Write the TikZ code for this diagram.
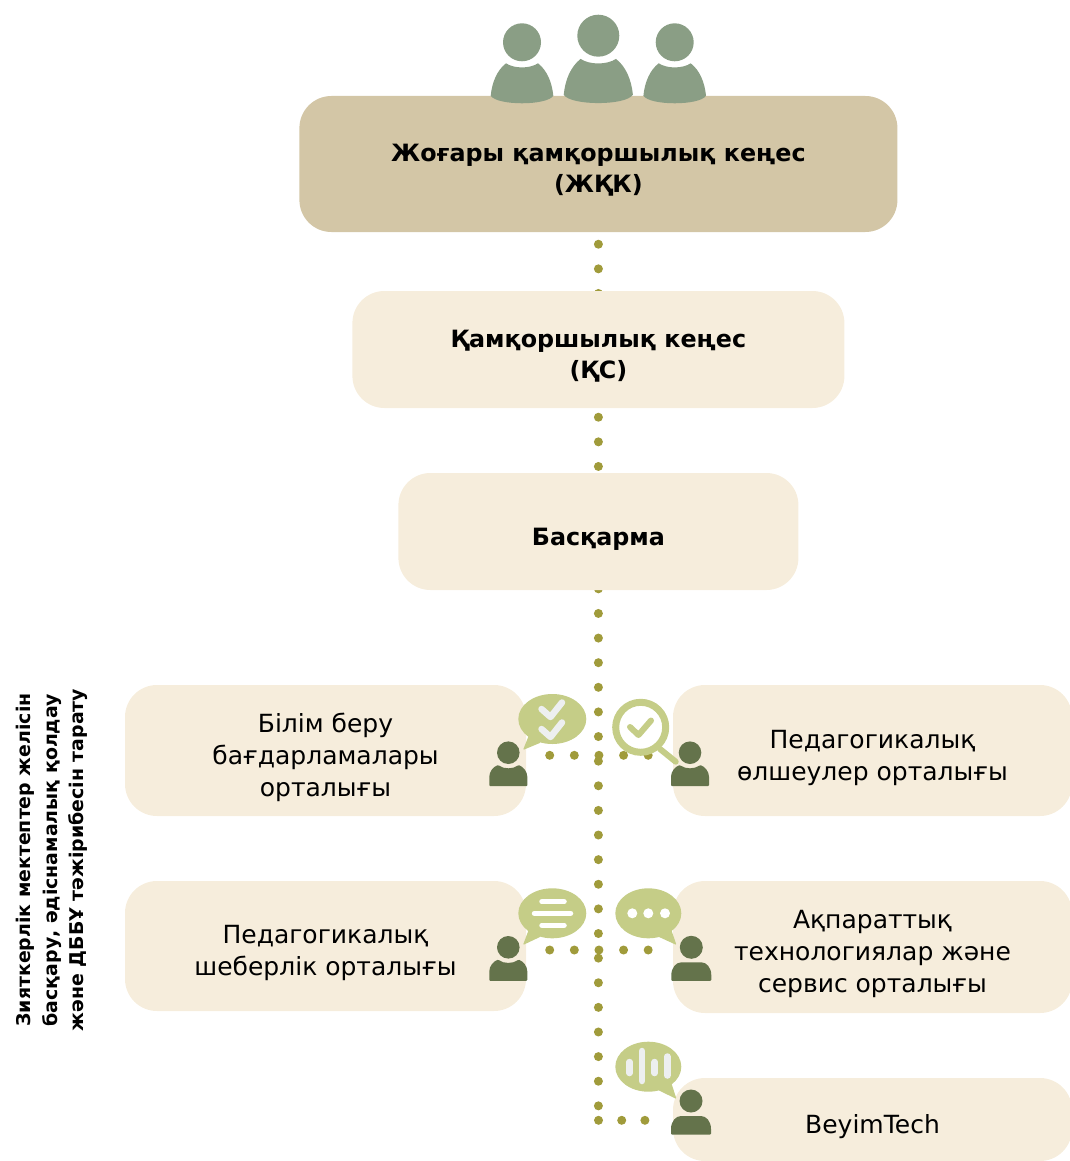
\documentclass[tikz,border=0pt]{standalone}
\usepackage{fontspec}
\setmainfont{DejaVu Sans}
\usetikzlibrary{backgrounds}

\definecolor{topbox}{HTML}{D3C6A6}
\definecolor{lightbox}{HTML}{F6EDDC}
\definecolor{dotcol}{HTML}{A09B3B}
\definecolor{bubble}{HTML}{C5CD87}
\definecolor{darkman}{HTML}{64734B}
\definecolor{greyman}{HTML}{8A9E85}
\definecolor{tickcol}{HTML}{EDEFF0}

\newcommand{\linetop}{\rule{0pt}{33pt}}
\newcommand{\lineend}{\rule[-6pt]{0pt}{0pt}}

\tikzset{
	box/.style={fill=lightbox, rounded corners=32pt, align=center, inner sep=0pt, font=\fontsize{25}{32}\selectfont},
	boldbox/.style={box, font=\fontsize{23.8}{31}\selectfont\bfseries},
	dotline/.style={dotcol, line width=9pt, line cap=round, dash pattern=on 0pt off 24.62pt},
	bigman/.pic={
		\fill [greyman] (0,0) circle (19);
		\fill [greyman] (-31.3,53.4) .. controls (-30,40) and (-25,28) .. (-16,21)
			.. controls (-8,26.5) and (8,26.5) .. (16,21)
			.. controls (25,28) and (30,40) .. (31.3,53.4)
			.. controls (25,63.5) and (-25,63.5) .. cycle;
	},
	smallman/.pic={
		\fill [darkman] (0,0) circle (11.3);
		\fill [darkman, rounded corners=1pt] (-19,33.5) -- (-19,25) .. controls (-19,19) and (-15,14) .. (-10,12.3)
			.. controls (-5,16.5) and (5,16.5) .. (10,12.3)
			.. controls (15,14) and (19,19) .. (19,25) -- (19,33.5) -- cycle;
	},
	flatman/.pic={
		\fill [darkman] (0,0) circle (11.5);
		\fill [darkman, rounded corners=1pt] (-20,33.5) -- (-20,29) .. controls (-20,20) and (-15,15) .. (-9,15)
			-- (9,15) .. controls (15,15) and (20,20) .. (20,29) -- (20,33.5) -- cycle;
	},
}

\begin{document}
\begin{tikzpicture}[x=1pt, y=-1pt]
	\useasboundingbox (0,0) rectangle (1070,1161);

	%% Top row people sit on the dark box
	\node at (598.4,164) [boldbox, fill=topbox, minimum width=598pt, minimum height=136pt] (zhkk) {\linetop Жоғары қамқоршылық кеңес\\(ЖҚК)\lineend};
	\node at (598.4,349.5) [boldbox, minimum width=492pt, minimum height=117pt] (ks) {\linetop Қамқоршылық кеңес\\(ҚС)\lineend};
	\node at (598.4,531.5) [boldbox, minimum width=400pt, minimum height=117pt] (basqarma) {\linetop Басқарма\lineend};
	\pic at (522,42.3) {bigman};
	\pic at (598.3,35.7) [scale=1.105] {bigman};
	\pic at (674.7,42.3) {bigman};

	%% Centres
	\node at (325.5,750.5) [box, minimum width=401pt, minimum height=131pt] (bilim) {\linetop Білім беру\\бағдарламалары\\орталығы\lineend};
	\node at (872.5,750.5) [box, minimum width=399pt, minimum height=131pt] (olsheu) {\linetop Педагогикалық\\өлшеулер орталығы\lineend};
	\node at (325.5,946) [box, minimum width=401pt, minimum height=130pt] (sheber) {\linetop Педагогикалық\\шеберлік орталығы\lineend};
	\node at (872.5,947) [box, minimum width=399pt, minimum height=132pt] (aqparat) {\linetop Ақпараттық\\технологиялар және\\сервис орталығы\lineend};
	\node at (872.5,1119.5) [box, minimum width=399pt, minimum height=83pt] (beyim) {\linetop BeyimTech\lineend};

	\node at (52,860) [rotate=90, align=center, font=\fontsize{18.9}{26.5}\selectfont\bfseries] (side) {Зияткерлік мектептер желісін\\басқару, әдіснамалық қолдау\\және ДББҰ тәжірибесін тарату};

	%% Dotted connections
	\coordinate (corner) at (598.5,1120.3);
	\coordinate (spineend) at (598.4,1110);
	\coordinate (rowal) at (549.7,755.3);
	\coordinate (rowar) at (648.2,755.3);
	\coordinate (rowbl) at (549.7,950);
	\coordinate (rowbr) at (648.2,950);
	\coordinate (rowcr) at (645,1120.3);
	\begin{scope}[on background layer]
		\draw [dotline, dash phase=12.6pt] (zhkk.south) -- ([yshift=-4pt]ks.north);
		\draw [dotline, dash phase=15.6pt] (ks.south) -- (basqarma.north);
		\draw [dotline, dash phase=22pt] ([yshift=4pt]basqarma.south) -- (spineend);
		\draw [dotline] (rowal) -- (rowar);
		\draw [dotline] (rowbl) -- (rowbr);
		\draw [dotline, dash pattern=on 0pt off 23.2pt] (corner) -- (rowcr);
	\end{scope}

	%% Left speech bubble, ticks
	\fill [bubble] (552.3,719) ellipse (34 and 25);
	\fill [bubble, rounded corners=1pt] (529,735) -- (523,750) -- (541,742.5) -- cycle;
	\draw [tickcol, line width=6.5pt, line cap=round, line join=round] (541.5,709) -- (550.5,717) -- (562,702.5);
	\draw [tickcol, line width=6.5pt, line cap=round, line join=round] (541.5,729) -- (550.5,737) -- (562,722.5);
	\pic at (508.3,752.7) {smallman};

	%% Magnifying glass
	\draw [bubble, line width=7pt] (640.7,727.3) circle (25);
	\draw [bubble, line width=6pt, line cap=round] (660,749) -- (675.7,761.7);
	\draw [bubble, line width=6pt, line cap=round, line join=round] (630,727) -- (638.5,735) -- (651,720.5);
	\pic at (690,752.7) {smallman};

	%% Second row bubbles
	\fill [bubble] (552.3,913.3) ellipse (34 and 25);
	\fill [bubble, rounded corners=1pt] (529,929) -- (523,945) -- (541,936.5) -- cycle;
	\draw [white, line width=5.5pt, line cap=round] (542,901.7) -- (564,901.7);
	\draw [white, line width=5.5pt, line cap=round] (534.5,913.3) -- (570.5,913.3);
	\draw [white, line width=5.5pt, line cap=round] (542,925.3) -- (564,925.3);
	\pic at (508.3,947.3) {smallman};

	\fill [bubble] (648.3,913.3) ellipse (33 and 25);
	\fill [bubble, rounded corners=1pt] (671,929) -- (676.5,945) -- (658,936.5) -- cycle;
	\foreach \dotx in {632.3,648.3,665}
		\fill [white] (\dotx,913.3) circle (5);
	\pic at (691.3,947.3) {flatman};

	%% BeyimTech bubble
	\fill [bubble] (648.3,1066.7) ellipse (33 and 25);
	\fill [bubble, rounded corners=1pt] (671,1082) -- (676.5,1099) -- (658,1090) -- cycle;
	\draw [tickcol, line width=6.5pt, line cap=round] (629.5,1062) -- (629.5,1073);
	\draw [tickcol, line width=6.5pt, line cap=round] (642,1051) -- (642,1081);
	\draw [tickcol, line width=6.5pt, line cap=round] (654.7,1062) -- (654.7,1073);
	\draw [tickcol, line width=6.5pt, line cap=round] (667.3,1056.5) -- (667.3,1075.5);
	\pic at (691,1101) {flatman};
\end{tikzpicture}
\end{document}
